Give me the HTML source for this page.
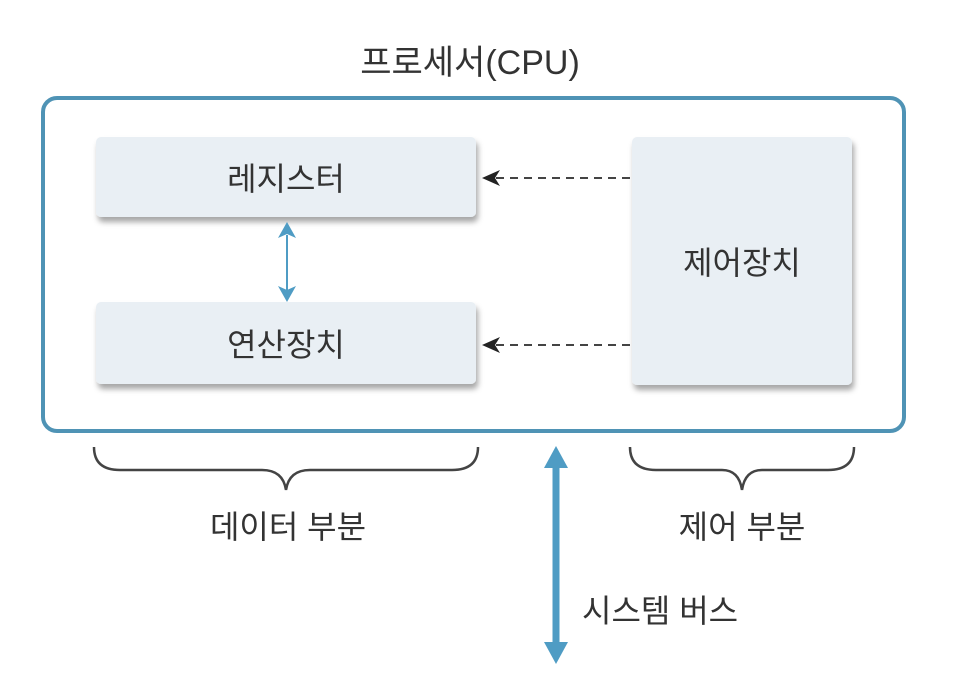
<!DOCTYPE html>
<html><head><meta charset="utf-8"><style>
html,body{margin:0;padding:0;background:#fff;}
svg{display:block;}
text{font-family:"Liberation Sans","Noto Sans CJK KR",sans-serif;fill:#333;}
</style></head><body>
<svg width="979" height="687" viewBox="0 0 979 687" xmlns="http://www.w3.org/2000/svg">
<defs>
<filter id="sh" x="-10%" y="-10%" width="130%" height="140%">
<feDropShadow dx="2" dy="5" stdDeviation="3" flood-color="#000" flood-opacity="0.35"/>
</filter>
</defs>
<rect width="979" height="687" fill="#fff"/>
<text x="470" y="74" font-size="34" text-anchor="middle">프로세서(CPU)</text>
<rect x="43" y="98" width="861" height="333" rx="14" fill="#fff" stroke="#4f93b5" stroke-width="4"/>
<rect x="96" y="137" width="380" height="80" rx="5" fill="#e9eff4" filter="url(#sh)"/>
<rect x="96" y="302" width="380" height="82" rx="5" fill="#e9eff4" filter="url(#sh)"/>
<rect x="632" y="137" width="220" height="248" rx="5" fill="#e9eff4" filter="url(#sh)"/>
<text x="286" y="190" font-size="32" text-anchor="middle">레지스터</text>
<text x="286" y="356" font-size="32" text-anchor="middle">연산장치</text>
<text x="742" y="274" font-size="32" text-anchor="middle">제어장치</text>
<!-- double arrow -->
<line x1="287" y1="235" x2="287" y2="290" stroke="#4f9cc4" stroke-width="2"/>
<polygon points="287,222 278,238 287,234 296,238" fill="#4f9cc4"/>
<polygon points="287,302 278,286 287,290 296,286" fill="#4f9cc4"/>
<!-- dashed arrows -->
<line x1="496" y1="178" x2="631" y2="178" stroke="#444" stroke-width="2" stroke-dasharray="8,6"/>
<polygon points="482,178 500,170 495,178 500,186" fill="#222"/>
<line x1="496" y1="345" x2="631" y2="345" stroke="#444" stroke-width="2" stroke-dasharray="8,6"/>
<polygon points="482,345 500,337 495,345 500,353" fill="#222"/>
<!-- system bus -->
<line x1="556" y1="462" x2="556" y2="648" stroke="#4f9cc4" stroke-width="7"/>
<polygon points="556,446 544,468 568,468" fill="#4f9cc4"/>
<polygon points="556,664 544,642 568,642" fill="#4f9cc4"/>
<text x="582" y="622" font-size="32">시스템 버스</text>
<!-- braces -->
<path d="M94,447 Q94,470 120,470 L262,470 Q283,470 286,490 Q289,470 310,470 L452,470 Q478,470 478,447" fill="none" stroke="#444" stroke-width="2.5"/>
<path d="M630,447 Q630,470 656,470 L722,470 Q739,470 742,490 Q745,470 762,470 L828,470 Q854,470 854,447" fill="none" stroke="#444" stroke-width="2.5"/>
<text x="288" y="538" font-size="32" text-anchor="middle">데이터 부분</text>
<text x="742" y="538" font-size="32" text-anchor="middle">제어 부분</text>
</svg>
</body></html>
